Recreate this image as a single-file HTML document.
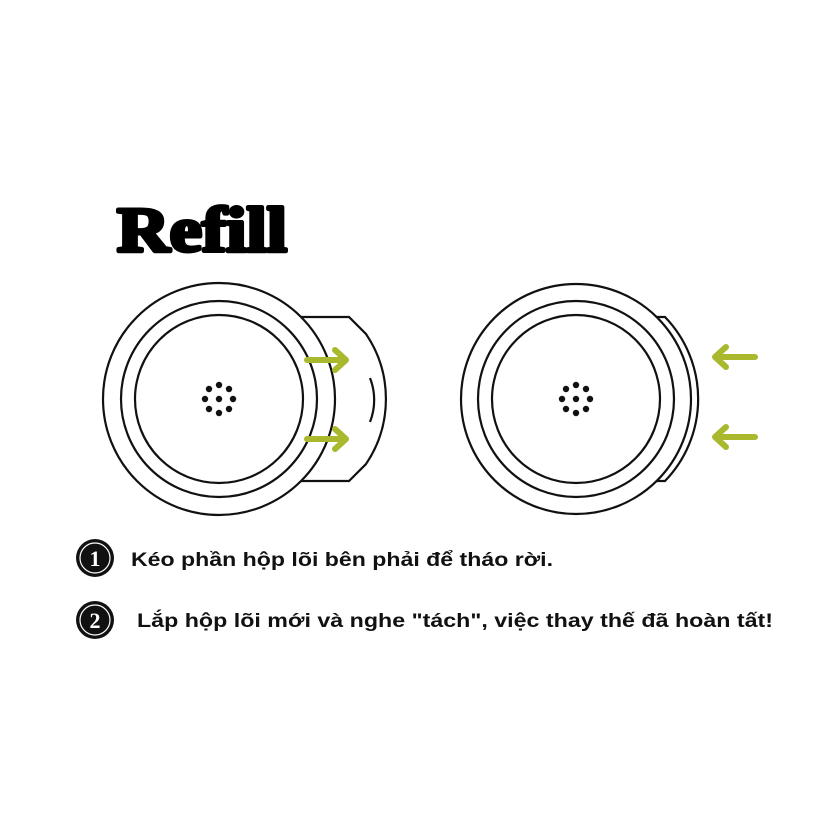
<!DOCTYPE html>
<html><head><meta charset="utf-8"><style>
html,body{margin:0;padding:0;background:#fff;}
svg{display:block;}
</style></head><body>
<svg width="831" height="831" viewBox="0 0 831 831" xmlns="http://www.w3.org/2000/svg">
<rect width="831" height="831" fill="#fff"/>
<text x="117" y="251" font-family="Liberation Serif, serif" font-weight="bold" font-size="64" textLength="170" lengthAdjust="spacingAndGlyphs" stroke="#000" stroke-width="4" stroke-linejoin="round" fill="#000">Refill</text>

<g fill="none" stroke="#111" stroke-width="2.2">
<path d="M297,317 L349,317 L366,334 A116,116 0 0 1 366,464 L349,481 L297,481"/>
<path d="M370,378 A60,60 0 0 1 370,422"/>
<circle cx="219" cy="399" r="116" fill="#fff"/>
<circle cx="219" cy="399" r="98"/>
<circle cx="219" cy="399" r="84"/>
<path d="M654,317 L665,317 A118,118 0 0 1 665,481 L654,481"/>
<path d="M684,378 A60,60 0 0 1 684,422"/>
<circle cx="576" cy="399" r="115" fill="#fff"/>
<circle cx="576" cy="399" r="98"/>
<circle cx="576" cy="399" r="84"/>
</g>
<g fill="#111">
<circle cx="219" cy="399" r="3.2"/><circle cx="219" cy="385" r="3.2"/><circle cx="219" cy="413" r="3.2"/><circle cx="205" cy="399" r="3.2"/><circle cx="233" cy="399" r="3.2"/><circle cx="209" cy="389" r="3.2"/><circle cx="229" cy="389" r="3.2"/><circle cx="209" cy="409" r="3.2"/><circle cx="229" cy="409" r="3.2"/>
<circle cx="576" cy="399" r="3.2"/><circle cx="576" cy="385" r="3.2"/><circle cx="576" cy="413" r="3.2"/><circle cx="562" cy="399" r="3.2"/><circle cx="590" cy="399" r="3.2"/><circle cx="566" cy="389" r="3.2"/><circle cx="586" cy="389" r="3.2"/><circle cx="566" cy="409" r="3.2"/><circle cx="586" cy="409" r="3.2"/>
</g>
<g fill="none" stroke="#a9b82c" stroke-width="6" stroke-linecap="round" stroke-linejoin="round">
<path d="M307,360 L345,360 M335,350 L346,360 L335,370"/>
<path d="M307,439 L345,439 M335,429 L346,439 L335,449"/>
<path d="M755,357 L716,357 M726,347 L715,357 L726,367"/>
<path d="M755,437 L716,437 M726,427 L715,437 L726,447"/>
</g>
<g>
<circle cx="95" cy="558" r="19" fill="#111"/><circle cx="95" cy="558" r="15" fill="none" stroke="#fff" stroke-width="1.2"/>
<text x="95" y="566" text-anchor="middle" font-family="Liberation Serif, serif" font-weight="bold" font-size="22" fill="#fff">1</text>
<circle cx="95" cy="620" r="19" fill="#111"/><circle cx="95" cy="620" r="15" fill="none" stroke="#fff" stroke-width="1.2"/>
<text x="95" y="628" text-anchor="middle" font-family="Liberation Serif, serif" font-weight="bold" font-size="22" fill="#fff">2</text>
</g>
<g font-family="Liberation Sans, DejaVu Sans, sans-serif" font-weight="bold" font-size="19" fill="#111">
<text x="131" y="566" textLength="422" lengthAdjust="spacingAndGlyphs">Kéo phần hộp lõi bên phải để tháo rời.</text>
<text x="137" y="627" textLength="636" lengthAdjust="spacingAndGlyphs">Lắp hộp lõi mới và nghe "tách", việc thay thế đã hoàn tất!</text>
</g>
</svg>
</body></html>
